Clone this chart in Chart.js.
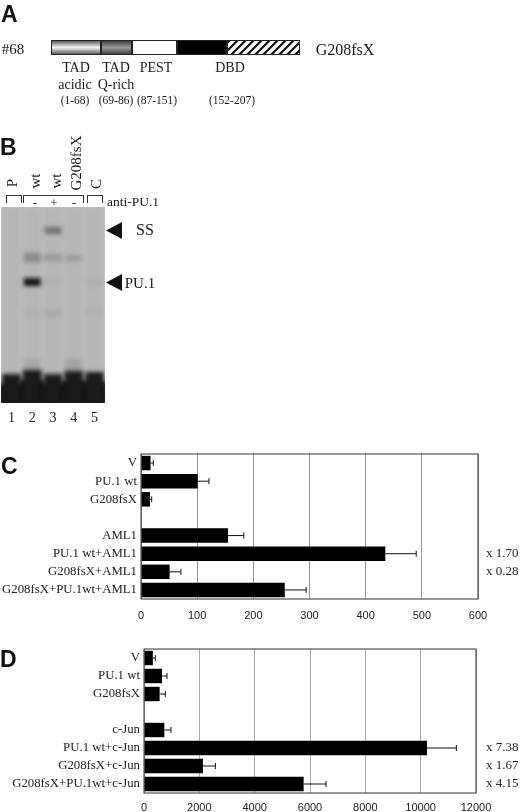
<!DOCTYPE html>
<html>
<head>
<meta charset="utf-8">
<script src="https://cdn.jsdelivr.net/npm/chart.js@4"></script>
<style>
  html, body { margin: 0; padding: 0; background: #fff; }
  #page { position: relative; width: 520px; height: 812px; overflow: hidden; filter: blur(0.35px); }
  canvas { position: absolute; }
  .t { position: absolute; white-space: nowrap; color: #1a1a1a; font-family: "Liberation Serif", serif; line-height: 1; transform: translate(-50%, -50%); }
  .letter { position: absolute; font: bold 23px "Liberation Sans", sans-serif; color: #111; line-height: 1; }
  .tri { position: absolute; width: 16px; height: 17px; background: #111; clip-path: polygon(0 50%, 100% 0, 100% 100%); }
  .br { position: absolute; height: 7px; border: 1px solid #333; border-bottom: 0; }
</style>
</head>
<body>
<div id="page">
  <canvas id="domains" width="250" height="25" style="left:51px;top:35px"></canvas>
  <canvas id="gel" width="104" height="221" style="left:1px;top:207px"></canvas>
  <canvas id="chartC" width="520" height="190" style="left:0;top:440px"></canvas>
  <canvas id="chartD" width="520" height="182" style="left:0;top:630px"></canvas>
</div>
<script>
// panel A: schematic domain widths, not residue counts
const domainNames = ["TAD acidic", "TAD Q-rich", "PEST", "DBD", "frameshift"];
const domainWidths = [50, 31, 45, 50, 73];

// panel B: gel lanes and bands (distance from top of the gel)
const lanes = ["1", "2", "3", "4", "5"];
const bandLane = ["3", "2", "3", "4", "2", "3", "5", "2", "3", "5", "2", "4"];
const bandTop = [20, 46, 47, 48, 71, 72, 72, 102, 102, 100, 152, 152];
const bandBottom = [27, 55, 54, 54, 79, 78, 79, 109, 110, 108, 166, 166];
const bandShade = [0.42, 0.28, 0.18, 0.16, 1, 0.05, 0.05, 0.05, 0.08, 0.04, 0.1, 0.12];
const probeTop = [167, 163, 167, 164, 165];
const gelBottom = [196, 196, 196, 196, 196];

// panel C
const labelsC = ["V", "PU.1 wt", "G208fsX", "", "AML1", "PU.1 wt+AML1", "G208fsX+AML1", "G208fsX+PU.1wt+AML1"];
const valuesC = [17, 101, 16, null, 155, 435, 51, 256];
const upperC = [22, 121, 19, null, 183, 490, 71, 294];
const foldC = ["", "", "", "", "", "x 1.70", "x 0.28", ""];

// panel D
const labelsD = ["V", "PU.1 wt", "G208fsX", "", "c-Jun", "PU.1 wt+c-Jun", "G208fsX+c-Jun", "G208fsX+PU.1wt+c-Jun"];
const valuesD = [320, 650, 565, null, 735, 10230, 2130, 5770];
const upperD = [410, 830, 770, null, 975, 11290, 2580, 6580];
const foldD = ["", "", "", "", "", "x 7.38", "x 1.67", "x 4.15"];

const SERIF = "Liberation Serif";
const SANS = "Liberation Sans";
Chart.defaults.animation = false;

// page text outside the charts
const page = document.getElementById("page");
function addText(text, x, y, size, rot) {
  const d = document.createElement("div");
  d.className = "t";
  d.textContent = text;
  d.style.left = x + "px";
  d.style.top = y + "px";
  d.style.fontSize = size + "px";
  if (rot) d.style.transform = "translate(-50%, -50%) rotate(-90deg)";
  page.appendChild(d);
}
function addLetter(text, x, y) {
  const d = document.createElement("div");
  d.className = "letter";
  d.textContent = text;
  d.style.left = x + "px";
  d.style.top = y + "px";
  page.appendChild(d);
}
function addBracket(x, w) {
  const d = document.createElement("div");
  d.className = "br";
  d.style.left = x + "px";
  d.style.top = "195px";
  d.style.width = w + "px";
  page.appendChild(d);
}
function addArrow(x, y) {
  const d = document.createElement("div");
  d.className = "tri";
  d.style.left = x + "px";
  d.style.top = y - 8 + "px";
  page.appendChild(d);
}

addLetter("A", 1, 3);
addLetter("B", 0, 136);
addLetter("C", 1, 455);
addLetter("D", 0, 648);

addText("#68", 13, 49, 15);
addText("G208fsX", 345, 50, 16);
addText("TAD", 76, 68, 14);
addText("TAD", 116, 68, 14);
addText("PEST", 156, 68, 14);
addText("DBD", 230, 68, 14);
addText("acidic", 75, 85, 14);
addText("Q-rich", 116, 85, 14);
addText("(1-68)", 75, 101, 11.5);
addText("(69-86)", 116, 101, 11.5);
addText("(87-151)", 157, 101, 11.5);
addText("(152-207)", 232, 101, 11.5);

addText("P", 12, 183, 15, true);
addText("wt", 35, 181, 15, true);
addText("wt", 56, 181, 15, true);
addText("G208fsX", 76, 163, 15, true);
addText("C", 96, 184, 15, true);
addBracket(6, 14);
addBracket(23, 59);
addBracket(87, 14);
addText("-", 35, 202, 13);
addText("+", 54, 202, 13);
addText("-", 74, 202, 13);
addText("anti-PU.1", 133, 202, 13.5);
addArrow(106, 230);
addArrow(106, 282);
addText("SS", 145, 230, 16);
addText("PU.1", 140, 283, 15);

// panel A bar
function stripeFill(ctx) {
  const c = document.createElement("canvas");
  c.width = 8;
  c.height = 8;
  const p = c.getContext("2d");
  p.fillStyle = "#fff";
  p.fillRect(0, 0, 8, 8);
  p.strokeStyle = "#111";
  p.lineWidth = 2.2;
  p.beginPath();
  p.moveTo(-2, 10); p.lineTo(10, -2);
  p.moveTo(-6, 6); p.lineTo(6, -6);
  p.moveTo(2, 14); p.lineTo(14, 2);
  p.stroke();
  return ctx.createPattern(c, "repeat");
}
function shaded(ctx, edge, mid) {
  const g = ctx.createLinearGradient(0, 5, 0, 20);
  g.addColorStop(0, edge);
  g.addColorStop(0.5, mid);
  g.addColorStop(1, edge);
  return g;
}
const domCtx = document.getElementById("domains").getContext("2d");
const domainFills = [
  shaded(domCtx, "#444", "#f4f4f4"),
  shaded(domCtx, "#333", "#999"),
  "#fff",
  "#000",
  stripeFill(domCtx)
];
let domainSets = [];
domainNames.forEach((name, i) => {
  domainSets.push({
    label: name,
    data: [domainWidths[i]],
    backgroundColor: domainFills[i],
    borderColor: "#222",
    borderWidth: 1,
    borderRadius: i < 3 ? 3 : 0,
    borderSkipped: false
  });
});
new Chart(domCtx, {
  type: "bar",
  data: { labels: ["#68"], datasets: domainSets },
  options: {
    indexAxis: "y",
    responsive: false,
    layout: { padding: 0 },
    datasets: { bar: { barPercentage: 0.6, categoryPercentage: 1 } },
    plugins: { legend: { display: false }, tooltip: { enabled: false } },
    scales: {
      x: { stacked: true, display: false, min: 0, max: 250 },
      y: { stacked: true, display: false }
    }
  }
});

// panel B gel: bands are soft so the datasets are drawn through a blur
const gelLook = {
  id: "gelLook",
  beforeDatasetsDraw(chart) {
    const a = chart.chartArea;
    const ctx = chart.ctx;
    ctx.save();
    ctx.fillStyle = "#bcbcbc";
    ctx.fillRect(a.left, a.top, a.width, a.height);
    ctx.filter = "blur(2px)";
  },
  afterDatasetsDraw(chart) {
    chart.ctx.restore();
  }
};
new Chart(document.getElementById("gel"), {
  type: "bar",
  data: {
    labels: lanes,
    datasets: [
      {
        label: "lane",
        data: lanes.map((l) => ({ x: l, y: [0, 196] })),
        backgroundColor: "rgba(120,120,120,0.07)",
        barPercentage: 0.82,
        categoryPercentage: 1,
        grouped: false
      },
      {
        label: "probe",
        data: lanes.map((l, i) => ({ x: l, y: [probeTop[i], gelBottom[i]] })),
        backgroundColor: "#141414",
        barPercentage: 0.9,
        categoryPercentage: 1,
        grouped: false
      },
      {
        label: "floor",
        data: lanes.map((l, i) => ({ x: l, y: [probeTop[i] + 10, gelBottom[i] + 6] })),
        backgroundColor: "#141414",
        barPercentage: 1.2,
        categoryPercentage: 1,
        grouped: false
      },
      {
        label: "bands",
        data: bandLane.map((l, i) => ({ x: l, y: [bandTop[i], bandBottom[i]] })),
        backgroundColor: bandShade.map((s) => "rgba(15,15,15," + s + ")"),
        barPercentage: 0.8,
        categoryPercentage: 1,
        grouped: false
      }
    ]
  },
  options: {
    responsive: false,
    layout: { padding: 0 },
    plugins: { legend: { display: false }, tooltip: { enabled: false } },
    scales: {
      x: {
        grid: { display: false, drawTicks: false },
        border: { display: false },
        ticks: { padding: 7, color: "#222", font: { family: SERIF, size: 14 } },
        afterFit(s) { s.height = 25; }
      },
      y: { display: false, reverse: true, min: 0, max: 196 }
    }
  },
  plugins: [gelLook]
});

// panels C and D
const errorBars = {
  id: "errorBars",
  afterDatasetsDraw(chart) {
    const ds = chart.data.datasets[0];
    const xs = chart.scales.x;
    const ys = chart.scales.y;
    const ctx = chart.ctx;
    ctx.save();
    ctx.strokeStyle = "#111";
    ctx.lineWidth = 1;
    ds.upper.forEach((u, i) => {
      if (u === null) return;
      const x0 = xs.getPixelForValue(ds.data[i]);
      const x1 = xs.getPixelForValue(u);
      const y = ys.getPixelForValue(i);
      ctx.beginPath();
      ctx.moveTo(x0, y);
      ctx.lineTo(x1, y);
      ctx.moveTo(x1, y - 3);
      ctx.lineTo(x1, y + 3);
      ctx.stroke();
    });
    ctx.restore();
  }
};
const plotFrame = {
  id: "plotFrame",
  afterDraw(chart) {
    const a = chart.chartArea;
    const ctx = chart.ctx;
    ctx.save();
    ctx.strokeStyle = "#333";
    ctx.lineWidth = 1;
    ctx.strokeRect(a.left, a.top, a.width, a.height);
    // fold change next to the bars
    ctx.fillStyle = "#222";
    ctx.font = "13px " + SERIF;
    ctx.textBaseline = "middle";
    chart.data.datasets[0].fold.forEach((f, i) => {
      if (f) ctx.fillText(f, 486, chart.scales.y.getPixelForValue(i));
    });
    ctx.restore();
  }
};
function barPanel(id, labels, values, upper, fold, max, step, box) {
  return new Chart(document.getElementById(id), {
    type: "bar",
    data: {
      labels: labels,
      datasets: [{
        data: values,
        upper: upper,
        fold: fold,
        backgroundColor: "#000",
        barPercentage: 0.8,
        categoryPercentage: 1
      }]
    },
    options: {
      indexAxis: "y",
      responsive: false,
      layout: { padding: { top: box.top, right: box.right, left: 0, bottom: 0 } },
      plugins: { legend: { display: false }, tooltip: { enabled: false } },
      scales: {
        x: {
          min: 0,
          max: max,
          grid: { color: box.gridColor, drawTicks: false },
          border: { display: false },
          ticks: {
            stepSize: step,
            padding: box.tickPad,
            maxRotation: 0,
            color: "#222",
            font: { family: SANS, size: 11 },
            callback: (v) => String(v)
          },
          afterFit(s) { s.height = box.bottom; }
        },
        y: {
          grid: { display: false, drawTicks: false },
          border: { display: false },
          ticks: {
            autoSkip: false,
            padding: 4,
            color: "#222",
            font: { family: SERIF, size: 12.8 }
          },
          afterFit(s) { s.width = box.left; }
        }
      }
    },
    plugins: [errorBars, plotFrame]
  });
}
barPanel("chartC", labelsC, valuesC, upperC, foldC, 600, 100,
  { left: 141, right: 42, top: 14, bottom: 31, tickPad: 10, gridColor: "#999" });
barPanel("chartD", labelsD, valuesD, upperD, foldD, 12000, 2000,
  { left: 144, right: 44, top: 19, bottom: 19, tickPad: 8, gridColor: "#aaa" });
</script>
</body>
</html>
